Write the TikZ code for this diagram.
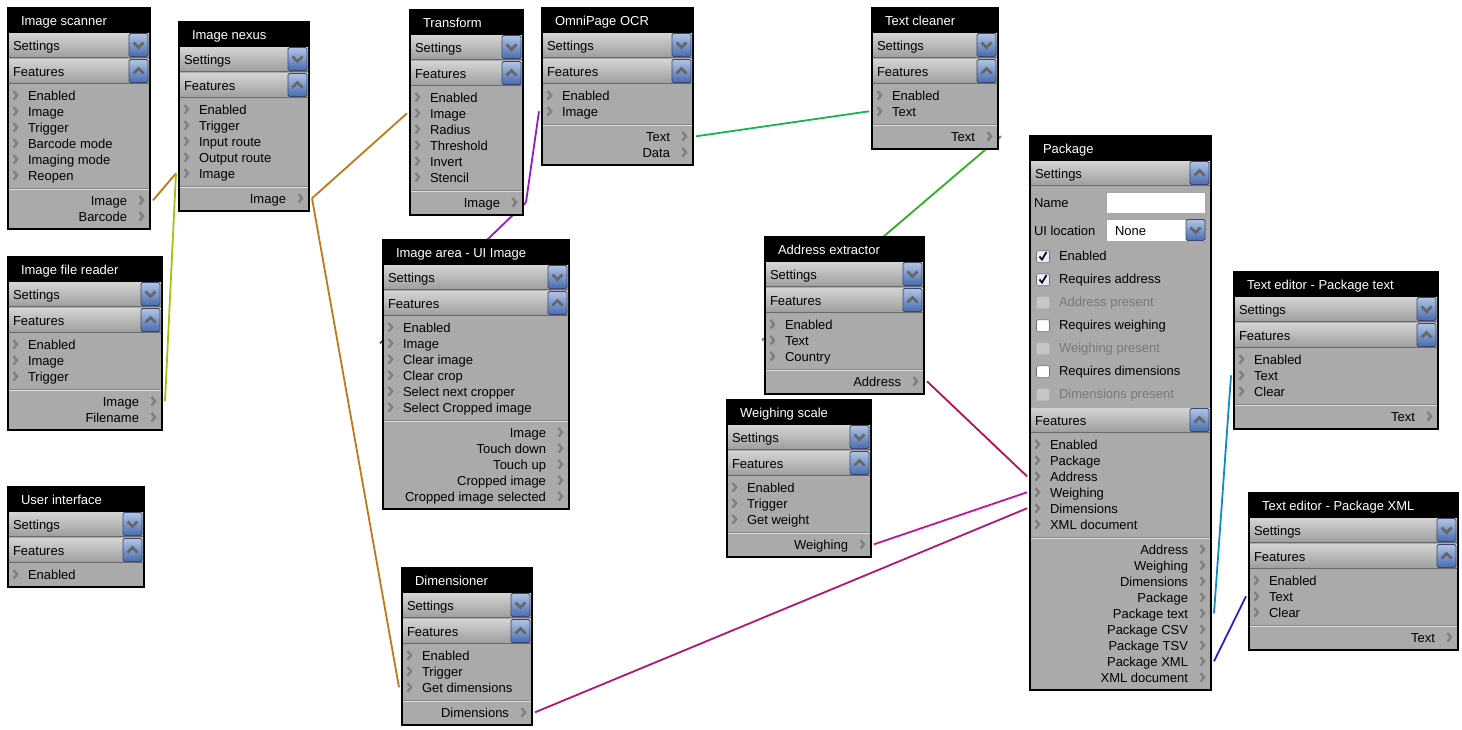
\documentclass[tikz,border=0pt]{standalone}
\usepackage{fontspec}
\setmainfont{Liberation Sans}
\usetikzlibrary{backgrounds}

\definecolor{bodygray}{RGB}{170,170,170}
\definecolor{bartop}{RGB}{212,212,212}
\definecolor{barbot}{RGB}{158,158,158}
\definecolor{bardark}{RGB}{105,105,105}
\definecolor{chevgray}{RGB}{128,128,128}
\definecolor{btntop}{RGB}{178,196,228}
\definecolor{btnbot}{RGB}{72,108,176}
\definecolor{btnedge}{RGB}{60,70,110}
\definecolor{dimtext}{RGB}{120,120,120}
\definecolor{worange}{RGB}{192,120,24}
\definecolor{wlime}{RGB}{164,192,16}
\definecolor{wpurple}{RGB}{150,24,200}
\definecolor{wgreen}{RGB}{24,180,80}
\definecolor{wleaf}{RGB}{48,176,32}
\definecolor{wcrimson}{RGB}{180,16,84}
\definecolor{wmagenta}{RGB}{192,20,160}
\definecolor{wberry}{RGB}{180,20,120}
\definecolor{wteal}{RGB}{16,140,196}
\definecolor{wviolet}{RGB}{56,24,204}

\tikzset{
  every node/.style={font=\fontsize{13}{15}\selectfont, inner sep=0pt, outer sep=0pt},
  titletext/.style={anchor=base west, text=white},
  itemtext/.style={anchor=base west, text=black},
  outtext/.style={anchor=base east, text=black},
  dimmed/.style={anchor=base west, text=dimtext},
  chev/.style={draw=chevgray, line width=2.4pt},
  btnchev/.style={draw=chevgray!80!black, line width=2.8pt},
  wire/.style={line width=1.8pt, draw=#1},
  bar/.style={top color=bartop, bottom color=barbot},
  button/.style={top color=btntop, bottom color=btnbot, draw=btnedge, line width=0.8pt, rounded corners=1.5pt},
  field/.style={fill=white, draw=gray!70, line width=0.6pt},
  ticked/.style={fill=blue!8!white, draw=gray!90!black, line width=0.6pt, rounded corners=2pt},
  unticked/.style={fill=white, draw=gray!90!black, line width=0.6pt, rounded corners=2pt},
  greyed/.style={fill=gray!45, draw=gray!60, line width=0.6pt, rounded corners=2pt},
}

% bar with a button: name, left, right, top, label, direction (1 down, -1 up)
\newcommand{\panelbar}[6]{%
  \shade[bar] ({#2+2},{#4}) rectangle ({#3-2},{#4+24});
  \draw[bardark, line width=1pt] ({#2+2},{#4+24.5}) -- ({#3-2},{#4+24.5});
  \draw[button] ({#3-22},{#4+0.5}) rectangle ({#3-3},{#4+23.5});
  \draw[btnchev] ({#3-17.5},{#4+12-2.5*(#6)}) -- ({#3-12.5},{#4+12+2.5*(#6)}) -- ({#3-7.5},{#4+12-2.5*(#6)});
  \node[itemtext] (#1) at ({#2+6},{#4+17}) {#5};
}

% [extra settings height] name, left, top, width, title, inputs, outputs
\newcommand{\panel}[8][0]{%
  \foreach \lbl [count=\k] in {#7} {\xdef\nin{\k}}%
  \def\outlist{#8}%
  \ifx\outlist\empty\xdef\nout{0}\else\foreach \lbl [count=\k] in {#8} {\xdef\nout{\k}}\fi
  \pgfmathsetmacro\pr{#3+#5}%
  \pgfmathsetmacro\pfirst{#4+93+#1}%
  \pgfmathsetmacro\plast{\pfirst+(\nin-1)*16}%
  \pgfmathsetmacro\pbot{\nout>0 ? \plast+25+(\nout-1)*16+9 : \plast+9}%
  \pgfmathsetmacro\sdir{#1>0 ? -1 : 1}%
  \fill[black] (#3,#4) rectangle (\pr,\pbot);
  \fill[bodygray] ({#3+2},{#4+26}) rectangle ({\pr-2},{\pbot-2});
  \node[titletext] (#2) at ({#3+14},{#4+18.5}) {#6};
  \panelbar{#2-set}{#3}{\pr}{#4+26}{Settings}{\sdir}
  \panelbar{#2-feat}{#3}{\pr}{#4+52+#1}{Features}{-1}
  \foreach \lbl [count=\k] in {#7} {
    \pgfmathsetmacro\yy{\pfirst+(\k-1)*16}
    \draw[chev] ({#3+6.5},{\yy-9}) -- ({#3+10},{\yy-4.7}) -- ({#3+6.5},{\yy-0.4});
    \node[itemtext] (#2-il\k) at ({#3+21},\yy) {\lbl};
    \coordinate (#2-in\k) at ({#3-2},{\yy-4.7});
  }
  \ifnum\nout>0
    \pgfmathsetmacro\psep{\plast+8}
    \draw[bardark!80!white] ({#3+2},\psep) -- ({\pr-2},\psep);
    \draw[white!75!gray] ({#3+2},{\psep+1}) -- ({\pr-2},{\psep+1});
    \foreach \lbl [count=\k] in {#8} {
      \pgfmathsetmacro\yy{\plast+25+(\k-1)*16}
      \draw[chev] ({\pr-11.5},{\yy-9}) -- ({\pr-8},{\yy-4.7}) -- ({\pr-11.5},{\yy-0.4});
      \node[outtext] (#2-ol\k) at ({\pr-24},\yy) {\lbl};
      \coordinate (#2-out\k) at ({\pr+2},{\yy-4.7});
    }
  \fi
}

\begin{document}
\begin{tikzpicture}[x=1pt, y=-1pt]
\useasboundingbox (0,0) rectangle (1462,729);

% panels
\panel{scan}{7}{7}{144}{Image scanner}{Enabled,Image,Trigger,Barcode mode,Imaging mode,Reopen}{Image,Barcode}
\panel{nexus}{178}{21}{132}{Image nexus}{Enabled,Trigger,Input route,Output route,Image}{Image}
\panel{reader}{7}{256}{156}{Image file reader}{Enabled,Image,Trigger}{Image,Filename}
\panel{ui}{7}{486}{138}{User interface}{Enabled}{}
\panel{trans}{409}{9}{115}{Transform}{Enabled,Image,Radius,Threshold,Invert,Stencil}{Image}
\panel{ocr}{541}{7}{153}{OmniPage OCR}{Enabled,Image}{Text,Data}
\panel{clean}{871}{7}{128}{Text cleaner}{Enabled,Text}{Text}
\panel{area}{382}{239}{188}{Image area - UI Image}{Enabled,Image,Clear image,Clear crop,Select next cropper,Select Cropped image}{Image,Touch down,Touch up,Cropped image,Cropped image selected}
\panel{dim}{401}{567}{132}{Dimensioner}{Enabled,Trigger,Get dimensions}{Dimensions}
\panel{addr}{764}{236}{161}{Address extractor}{Enabled,Text,Country}{Address}
\panel{scale}{726}{399}{146}{Weighing scale}{Enabled,Trigger,Get weight}{Weighing}
\panel[221]{pkg}{1029}{135}{183}{Package}{Enabled,Package,Address,Weighing,Dimensions,XML document}{Address,Weighing,Dimensions,Package,Package text,Package CSV,Package TSV,Package XML,XML document}
\panel{edtxt}{1233}{271}{206}{Text editor - Package text}{Enabled,Text,Clear}{Text}
\panel{edxml}{1248}{492}{211}{Text editor - Package XML}{Enabled,Text,Clear}{Text}

% package settings
\node[itemtext] (pkg-name) at (1034,207) {Name};
\draw[field] (1106,192) rectangle (1205.5,213);
\node[itemtext] (pkg-loc) at (1034,235) {UI location};
\draw[field] (1106,219) rectangle (1205.5,241);
\node[itemtext] (pkg-none) at (1115,235) {None};
\draw[button] (1186,219.5) rectangle (1205,240.5);
\draw[btnchev] (1190.5,227.5) -- (1195.5,232.5) -- (1200.5,227.5);
\foreach \txt/\bst/\tst [count=\k] in {Enabled/ticked/itemtext, Requires address/ticked/itemtext,
    Address present/greyed/dimmed, Requires weighing/unticked/itemtext, Weighing present/greyed/dimmed,
    Requires dimensions/unticked/itemtext, Dimensions present/greyed/dimmed} {
  \pgfmathsetmacro\yy{260+(\k-1)*23}
  \draw[\bst] (1036.5,{\yy-9.3}) rectangle (1049.5,{\yy+2.7});
  \node[\tst] (pkg-opt\k) at (1059,\yy) {\txt};
}
\draw[line width=1.7pt] (1039.5,256.5) -- (1042,259.5) -- (1046.5,252);
\draw[line width=1.7pt] (1039.5,279.5) -- (1042,282.5) -- (1046.5,275);

% wires
\begin{pgfonlayer}{background}
  \draw[wire=worange] (scan-out1) -- (nexus-in5);
  \draw[wire=wlime] (reader-out1) -- (nexus-in5);
  \draw[wire=worange] (nexus-out1) -- (trans-in2);
  \draw[wire=worange] (nexus-out1) -- (dim-in3);
  \draw[wire=wpurple] (trans-out1) -- (ocr-in2);
  \draw[wire=wpurple] (trans-out1) -- (area-in2);
  \draw[wire=wgreen] (ocr-out1) -- (clean-in2);
  \draw[wire=wleaf] (clean-out1) -- (addr-in2);
  \draw[wire=wcrimson] (addr-out1) -- (pkg-in3);
  \draw[wire=wmagenta] (scale-out1) -- (pkg-in4);
  \draw[wire=wberry] (dim-out1) -- (pkg-in5);
  \draw[wire=wteal] (pkg-out5) -- (edtxt-in2);
  \draw[wire=wviolet] (pkg-out8) -- (edxml-in2);
\end{pgfonlayer}
\end{tikzpicture}
\end{document}
